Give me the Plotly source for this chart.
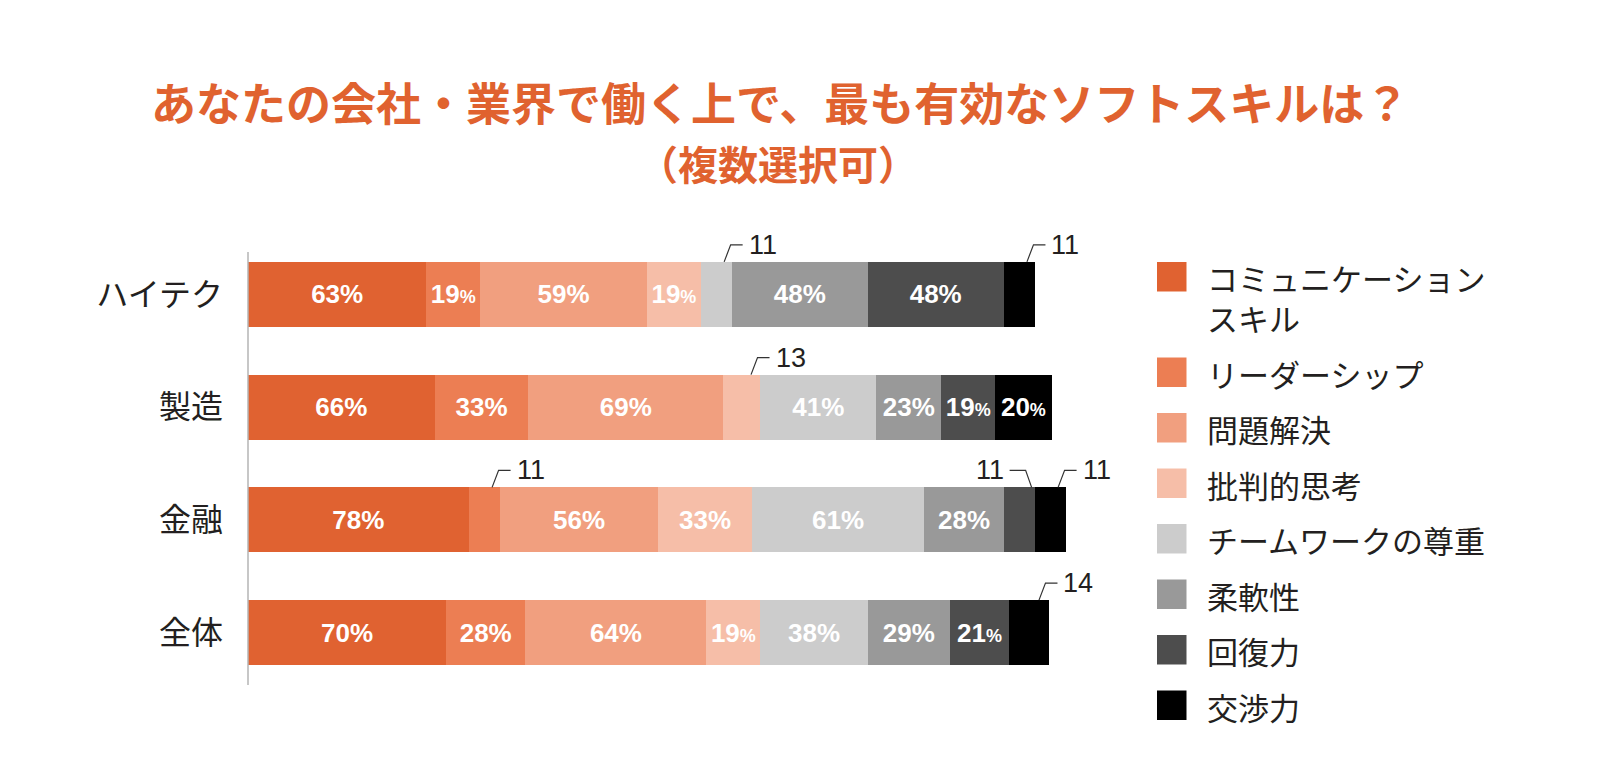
import plotly.graph_objects as go

# ---------------- data ----------------
categories = ["ハイテク", "製造", "金融", "全体"]
series_names = ["コミュニケーション<br>スキル", "リーダーシップ", "問題解決", "批判的思考",
                "チームワークの尊重", "柔軟性", "回復力", "交渉力"]
communication = [63, 66, 78, 70]
leadership = [19, 33, 11, 28]
problem_solving = [59, 69, 56, 64]
critical_thinking = [19, 13, 33, 19]
teamwork = [11, 41, 61, 38]
flexibility = [48, 23, 28, 29]
resilience = [48, 19, 11, 21]
negotiation = [11, 20, 11, 14]
title_line1 = "あなたの会社・業界で働く上で、最も有効なソフトスキルは？"
title_line2 = "（複数選択可）"

series_values = [communication, leadership, problem_solving, critical_thinking,
                 teamwork, flexibility, resilience, negotiation]
colors = ["#E06231", "#EC7E53", "#F19F7F", "#F6BEA8",
          "#CCCCCC", "#999999", "#4D4D4D", "#000000"]

# ---------------- geometry / style ----------------
PAGE_OFF = 8                      # browser body margin
W_FIG, H_FIG = 1601 - PAGE_OFF, 776 - PAGE_OFF
ML, MR, MT, MB = 248 - PAGE_OFF, 504, 238 - PAGE_OFF, 87
PW, PH = W_FIG - ML - MR, H_FIG - MT - MB
XMAX = 300
BAR_W = 0.577
CALLOUT_MAX = 14          # values drawn with a leader line outside
SMALL_PCT_BELOW = 22      # small "%" sign for narrow segments
ORANGE = "#E0622F"
DARK = "#231F20"
NUM_FONT = "Liberation Sans Narrow, Arial Narrow, Liberation Sans, Arial, sans-serif"
JP_FONT = "Noto Sans CJK JP, Noto Sans, sans-serif"

xu = PW / XMAX   # px per x unit
yu = PH / 4.0    # px per y unit


def px2paper_x(px):   # px: screen pixel
    return (px - PAGE_OFF - ML) / PW


def px2paper_y(py):
    return (MT + PH - (py - PAGE_OFF)) / PH


ypos = [len(categories) - 1 - i for i in range(len(categories))]


def pct_label(v):
    if v <= CALLOUT_MAX:
        return ""
    if v < SMALL_PCT_BELOW:
        return f"{v}<span style='font-size:18px'>%</span>"
    return f"{v}%"


fig = go.Figure()
for name, vals, col in zip(series_names, series_values, colors):
    fig.add_trace(go.Bar(
        orientation="h", x=vals, y=ypos, name=name.replace("<br>", ""),
        marker=dict(color=col, line=dict(width=0)),
        text=[pct_label(v) for v in vals],
        textposition="inside", insidetextanchor="middle", textangle=0,
        constraintext="none",
        textfont=dict(family=NUM_FONT, size=26, color="white", weight="bold"),
        showlegend=False, hoverinfo="x+name",
    ))

shapes = []
annotations = []

# y axis line
shapes.append(dict(type="line", xref="paper", yref="paper",
                   x0=0, x1=0, y0=px2paper_y(685), y1=px2paper_y(252),
                   line=dict(color="#B5B5B5", width=1.5)))

# ---------- call-outs for small values ----------
for ci, y in enumerate(ypos):
    vals = [s[ci] for s in series_values]
    cum = 0
    for si, v in enumerate(vals):
        x0 = cum
        cum += v
        if v > CALLOUT_MAX:
            continue
        ytop = y + BAR_W / 2
        ymid = ytop + 17 / yu
        nxt_small = si + 1 < len(vals) and vals[si + 1] <= CALLOUT_MAX
        if nxt_small:
            sx = x0 + 0.9 * v
            x1 = sx - 6 / xu
            x2 = x1 - 16 / xu
            tx, anchor = x2 - 4 / xu, "right"
        else:
            sx = x0 + 0.75 * v
            x1 = sx + 6.5 / xu
            x2 = x1 + 12 / xu
            tx, anchor = x2 + 4 / xu, "left"
        shapes.append(dict(type="path", xref="x", yref="y",
                           path=f"M {sx},{ytop} L {x1},{ymid} L {x2},{ymid}",
                           line=dict(color="#333333", width=1.2)))
        annotations.append(dict(x=tx, y=ymid, xref="x", yref="y", text=str(v),
                                showarrow=False, xanchor=anchor, yanchor="middle",
                                font=dict(family=NUM_FONT, size=27, color=DARK)))

# ---------- legend (drawn) ----------
LEG_X0, LEG_SQ, LEG_TX = 1157, 29.5, 1205
LEG_STEP, LINE_H = 55.5, 39
ytop_px = 262
for name, col in zip(series_names, colors):
    nlines = name.count("<br>") + 1
    shapes.append(dict(type="rect", xref="paper", yref="paper",
                       x0=px2paper_x(LEG_X0), x1=px2paper_x(LEG_X0 + LEG_SQ),
                       y0=px2paper_y(ytop_px + LEG_SQ), y1=px2paper_y(ytop_px),
                       fillcolor=col, line=dict(width=0)))
    cy = ytop_px + LEG_SQ / 2 + (nlines - 1) * LINE_H / 2
    annotations.append(dict(x=px2paper_x(LEG_TX), y=px2paper_y(cy + 1),
                            xref="paper", yref="paper", text=name, showarrow=False,
                            xanchor="left", yanchor="middle", align="left",
                            font=dict(family=JP_FONT, size=31, color=DARK)))
    ytop_px += LEG_STEP + (nlines - 1) * (LINE_H + 1)

# ---------- title ----------
annotations.append(dict(x=px2paper_x(780), y=px2paper_y(101), xref="paper", yref="paper",
                        text=title_line1, showarrow=False, xanchor="center", yanchor="middle",
                        font=dict(family=JP_FONT, size=45, color=ORANGE, weight="bold")))
annotations.append(dict(x=px2paper_x(778), y=px2paper_y(163), xref="paper", yref="paper",
                        text=title_line2, showarrow=False, xanchor="center", yanchor="middle",
                        font=dict(family=JP_FONT, size=40, color=ORANGE, weight="bold")))

fig.update_layout(
    width=W_FIG, height=H_FIG,
    margin=dict(l=ML, r=MR, t=MT, b=MB, pad=0),
    barmode="stack", bargap=1 - BAR_W,
    paper_bgcolor="white", plot_bgcolor="white",
    xaxis=dict(range=[0, XMAX], visible=False, fixedrange=True),
    yaxis=dict(range=[-0.5, 3.5], tickvals=ypos, ticktext=categories,
               showline=False, showgrid=False, zeroline=False, ticks="",
               ticklabelstandoff=24,
               tickfont=dict(family=JP_FONT, size=32, color=DARK), fixedrange=True),
    shapes=shapes, annotations=annotations,
    font=dict(family=JP_FONT),
)

fig.write_html("out.html")
